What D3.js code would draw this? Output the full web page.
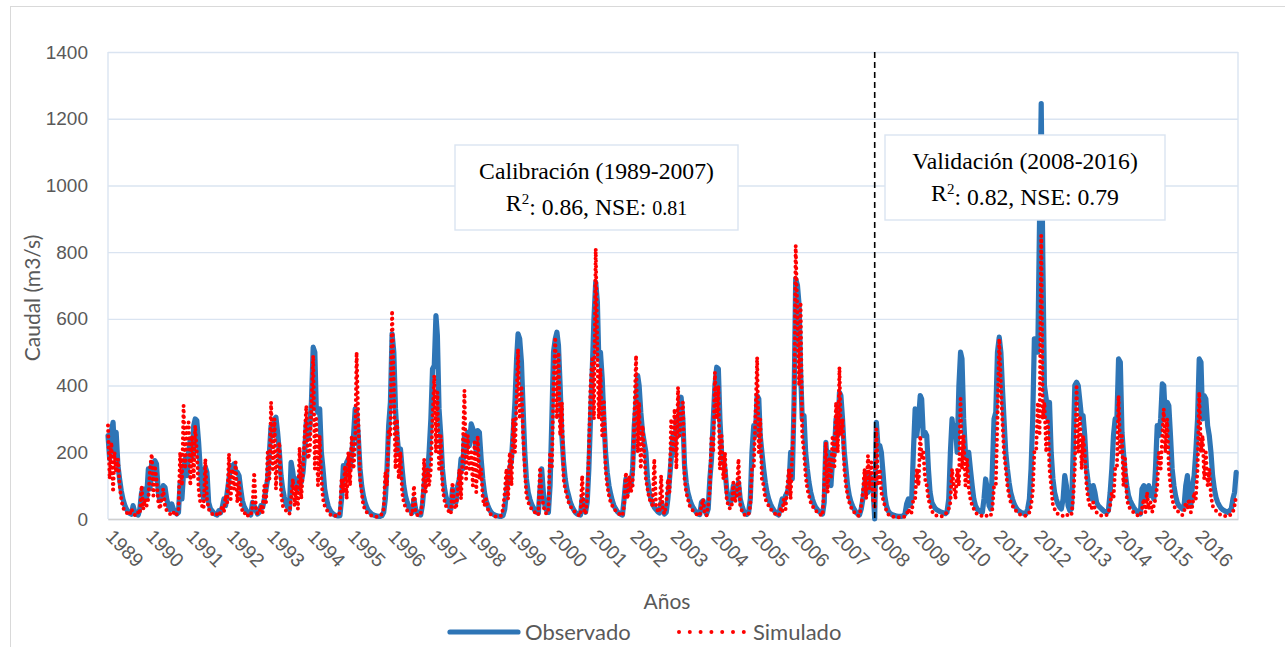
<!DOCTYPE html>
<html>
<head>
<meta charset="utf-8">
<script src="https://cdn.jsdelivr.net/npm/d3@7"></script>
<style>
  body { margin: 0; background: #fff; }
</style>
</head>
<body>
<div id="chart"></div>
<script>
// years on the x axis
var years = d3.range(1989, 2017);

// caudal observado, two values per month (1st and 16th), one row per year
var observado = [
  250,180,265,290,200,260,160,120,85,60,42,30,22,17,14,40,20,14,12,30,80,45,90,60,      // 1989
  150,90,170,120,175,165,80,55,70,100,95,60,40,28,45,30,20,15,20,110,60,140,180,130,    // 1990
  200,240,180,280,300,295,230,150,90,60,155,140,50,32,24,18,14,12,25,18,35,60,40,80,    // 1991
  120,160,150,165,145,140,130,90,55,38,28,20,15,12,50,40,25,15,20,40,35,60,90,120,      // 1992
  200,280,250,300,305,260,200,130,90,65,45,35,28,170,140,100,120,90,130,110,140,200,290,240, // 1993
  280,350,515,500,330,320,330,200,150,90,60,40,28,20,15,12,10,9,10,60,160,120,170,180,  // 1994
  150,200,250,330,320,250,150,100,70,50,35,25,20,15,12,10,9,8,8,10,20,60,150,280,       // 1995
  350,555,500,330,250,200,210,150,100,70,50,35,25,18,60,30,18,13,12,40,100,160,130,200, // 1996
  300,450,460,610,550,330,250,150,100,70,50,38,30,90,60,50,100,120,180,150,250,200,260,220, // 1997
  285,270,240,200,265,260,180,120,80,55,40,28,20,15,12,10,9,8,8,10,30,80,120,150,       // 1998
  180,260,350,480,555,540,470,330,200,120,80,60,45,35,25,20,18,90,150,80,35,25,20,100,  // 1999
  300,500,540,560,520,400,250,170,120,90,70,50,38,28,20,15,13,12,60,40,20,50,150,300,   // 2000
  450,600,710,650,480,500,420,300,200,140,100,75,55,40,30,22,17,14,12,60,120,80,110,100, // 2001
  150,280,350,430,400,320,260,230,200,120,80,60,45,35,28,22,18,50,30,15,20,60,120,180,  // 2002
  250,200,300,250,340,365,300,160,110,80,60,45,35,27,20,15,13,50,55,25,15,30,120,180,   // 2003
  300,400,455,450,300,200,180,150,90,60,45,60,100,70,80,110,60,40,25,18,14,20,60,200,   // 2004
  280,250,370,360,250,200,150,110,80,60,45,35,27,20,15,12,40,60,50,70,80,100,200,120,   // 2005
  350,720,700,640,450,300,310,200,150,110,80,60,45,35,28,22,18,15,50,230,150,200,100,180, // 2006
  200,300,250,380,370,300,200,150,100,70,50,38,28,20,15,12,30,60,100,140,80,130,120,100, // 2007
  0,290,210,220,200,140,70,40,25,18,14,12,10,9,8,8,8,10,15,45,60,40,60,200,             // 2008
  330,250,300,370,360,250,260,250,150,80,50,40,32,28,25,22,20,18,16,20,60,200,300,250,  // 2009
  280,200,400,500,480,300,200,180,200,150,100,60,40,30,25,22,20,60,120,90,40,30,150,300, // 2010
  320,500,545,500,400,300,200,150,110,80,60,45,35,28,23,20,18,16,15,30,60,150,300,540,  // 2011
  540,500,900,1245,800,400,360,300,350,200,120,80,60,45,35,30,60,130,100,40,25,30,200,400, // 2012
  410,400,350,300,310,250,150,110,80,60,100,80,50,40,35,30,25,22,20,25,80,150,250,300,  // 2013
  300,480,470,260,200,140,100,70,55,45,35,28,22,18,15,90,100,60,90,100,70,90,60,150,    // 2014
  280,250,300,405,400,300,350,340,250,150,100,70,50,40,35,30,40,100,130,60,40,100,130,200, // 2015
  300,480,470,300,370,360,280,250,200,130,90,65,50,40,32,28,25,22,20,25,30,60,80,140    // 2016
];

// caudal simulado, same dates
var simulado = [
  280,120,230,80,200,140,180,100,60,35,25,20,15,12,30,20,12,10,20,15,100,30,60,40,      // 1989
  60,150,195,70,160,120,50,30,60,90,40,25,20,15,12,20,10,15,30,200,100,340,150,280,     // 1990
  290,100,250,120,280,200,90,50,40,30,180,60,30,20,15,12,10,15,10,20,40,20,70,50,       // 1991
  195,60,150,90,170,50,110,40,25,15,20,10,12,10,40,140,30,15,20,40,20,100,50,200,       // 1992
  120,350,150,300,90,200,230,80,40,30,25,20,15,60,120,40,100,30,215,60,150,250,340,180, // 1993
  200,340,490,150,300,100,250,120,60,40,30,20,15,10,8,10,8,10,20,120,80,160,60,200,     // 1994
  100,250,150,230,500,300,120,80,40,30,20,15,12,10,8,7,7,8,10,15,30,140,100,270,        // 1995
  250,625,400,150,300,120,200,80,50,35,25,20,15,12,100,20,12,10,15,50,180,80,150,100,   // 1996
  150,300,430,200,380,150,250,100,60,40,30,20,15,110,40,30,80,150,60,200,385,120,250,150, // 1997
  200,100,230,80,250,120,150,60,40,60,30,20,12,10,8,7,7,8,10,30,80,150,60,200,          // 1998
  100,300,200,360,510,300,400,250,150,70,50,40,30,25,20,15,12,155,80,40,20,15,30,200,   // 1999
  150,400,545,300,500,250,350,120,90,70,50,40,30,25,20,15,12,10,130,30,15,60,200,400,   // 2000
  480,300,810,500,300,450,250,350,150,100,70,50,40,30,25,20,15,12,10,40,140,60,130,80,  // 2001
  100,300,490,200,350,150,280,200,120,90,60,50,40,180,40,25,20,130,30,15,40,120,80,300, // 2002
  200,330,150,395,250,300,350,120,80,60,40,30,25,20,15,12,10,40,60,15,10,40,90,250,     // 2003
  200,440,300,400,150,250,120,200,60,40,30,40,110,50,70,180,40,25,15,12,10,15,40,150,   // 2004
  150,300,485,200,300,120,100,60,50,40,30,25,20,15,12,10,30,20,60,30,100,150,60,200,    // 2005
  300,820,600,400,650,250,200,130,90,70,50,40,30,25,20,15,12,10,100,230,80,180,120,250, // 2006
  150,350,200,455,250,300,150,100,70,50,35,25,20,15,10,10,40,80,150,60,190,90,170,60,   // 2007
  30,270,100,150,80,60,40,25,15,10,8,7,6,5,5,5,5,6,8,12,30,15,20,60,                    // 2008
  60,150,100,250,180,200,120,100,60,40,25,15,12,10,10,8,8,10,15,20,30,50,150,100,       // 2009
  60,150,100,360,150,250,100,180,90,60,40,30,20,15,12,10,10,10,12,8,8,10,30,100,        // 2010
  100,300,540,400,300,200,150,100,70,50,40,30,25,20,15,12,10,10,10,12,20,40,80,200,     // 2011
  200,350,250,850,300,350,200,300,150,100,40,30,20,15,12,10,10,12,15,10,10,15,60,150,   // 2012
  395,200,310,150,250,200,100,60,40,30,50,30,20,15,12,10,10,10,12,20,40,80,60,150,      // 2013
  150,370,200,250,100,180,60,40,30,25,20,15,12,10,10,30,60,20,80,30,50,20,40,60,        // 2014
  100,200,150,250,330,200,300,150,100,60,40,30,25,20,15,12,20,50,30,60,20,40,80,60,     // 2015
  150,380,200,250,120,200,100,150,70,40,30,25,20,15,12,10,10,8,8,10,15,20,40,70         // 2016
];

var yTicks = [0, 200, 400, 600, 800, 1000, 1200, 1400];

var W = 1285, H = 647;
var plotLeft = 108, plotRight = 1238, plotTop = 52, plotBottom = 519;

var svg = d3.select('#chart').append('svg')
  .attr('width', W)
  .attr('height', H)
  .style('font-family', 'Lato, sans-serif');

// outer frame of the chart
svg.append('rect')
  .attr('x', 10.5).attr('y', 6.5)
  .attr('width', W).attr('height', H)
  .attr('fill', 'none')
  .attr('stroke', '#d9d9d9');

var x = d3.scaleTime()
  .domain([new Date(1989, 0, 1), new Date(2017, 0, 1)])
  .range([plotLeft, plotRight]);

var y = d3.scaleLinear()
  .domain([0, 1400])
  .range([plotBottom, plotTop]);

// date for each half-month value
function dateAt(i) {
  var yr = years[Math.floor(i / 24)];
  var k = i % 24;
  return new Date(yr, Math.floor(k / 2), k % 2 ? 16 : 1);
}

var obsData = observado.map((v, i) => ({ date: dateAt(i), v: v }));
var simData = simulado.map((v, i) => ({ date: dateAt(i), v: v }));

// gridlines + y labels
var yAxis = svg.append('g')
  .attr('transform', `translate(${plotLeft},0)`)
  .call(d3.axisLeft(y)
    .tickValues(yTicks)
    .tickFormat(d3.format('d'))
    .tickSize(-(plotRight - plotLeft))
    .tickPadding(20));
yAxis.select('.domain').remove();
yAxis.selectAll('line').attr('stroke', '#dae4f1').attr('stroke-width', 1.4);
yAxis.selectAll('text')
  .attr('fill', '#595959')
  .style('font-size', '19px');

// light vertical borders of the plot area
svg.selectAll('line.side')
  .data([plotLeft, plotRight])
  .join('line')
  .attr('class', 'side')
  .attr('x1', d => d).attr('x2', d => d)
  .attr('y1', plotTop).attr('y2', plotBottom)
  .attr('stroke', '#dae4f1')
  .attr('stroke-width', 1.4);

// x axis with rotated year labels
var xAxis = svg.append('g')
  .attr('transform', `translate(0,${plotBottom})`)
  .call(d3.axisBottom(x)
    .tickValues(years.map(yr => new Date(yr, 0, 1)))
    .tickFormat(d3.timeFormat('%Y'))
    .tickSize(0));
xAxis.select('.domain').attr('stroke', '#d0d0d0').attr('stroke-width', 1.5);
xAxis.selectAll('text')
  .attr('fill', '#595959')
  .style('font-size', '19.5px')
  .attr('text-anchor', 'start')
  .attr('x', 0).attr('y', 0).attr('dy', '0.35em')
  .attr('transform', 'translate(1,14) rotate(45)');

var line = d3.line()
  .x(d => x(d.date))
  .y(d => y(d.v));

svg.append('path')
  .datum(obsData)
  .attr('d', line)
  .attr('fill', 'none')
  .attr('stroke', '#2e75b6')
  .attr('stroke-width', 5.2)
  .attr('stroke-linejoin', 'round')
  .attr('stroke-linecap', 'round');

svg.append('path')
  .datum(simData)
  .attr('d', line)
  .attr('fill', 'none')
  .attr('stroke', '#ff0000')
  .attr('stroke-width', 4)
  .attr('stroke-dasharray', '0 5.5')
  .attr('stroke-linecap', 'round');

// split between calibration and validation
var split = x(new Date(2008, 0, 1));
svg.append('line')
  .attr('x1', split).attr('x2', split)
  .attr('y1', plotTop).attr('y2', plotBottom)
  .attr('stroke', '#000')
  .attr('stroke-width', 1.6)
  .attr('stroke-dasharray', '6 4');

// annotation boxes
function note(bx, by, bw, bh, title, r2, nse, small) {
  var g = svg.append('g').style('font-family', '"Liberation Serif", "Times New Roman", serif');
  g.append('rect')
    .attr('x', bx).attr('y', by).attr('width', bw).attr('height', bh)
    .attr('fill', '#fff').attr('stroke', '#dae4f1').attr('stroke-width', 1.4);
  g.append('text')
    .attr('x', bx + bw / 2).attr('y', by + 34)
    .attr('text-anchor', 'middle')
    .style('font-size', '23.7px')
    .text(title);
  var t = g.append('text')
    .attr('x', bx + bw / 2).attr('y', by + 66)
    .attr('text-anchor', 'middle')
    .style('font-size', '23.7px');
  t.append('tspan').text('R');
  t.append('tspan').attr('dy', '-0.45em').style('font-size', '15px').text('2');
  t.append('tspan').attr('dy', '0.45em').text(': ' + r2 + ', NSE: ');
  t.append('tspan').style('font-size', small ? '20px' : '23.7px').text(nse);
}
note(455, 145, 283, 85, 'Calibración (1989-2007)', '0.86', '0.81', true);
note(885, 135, 280, 85, 'Validación (2008-2016)', '0.82', '0.79', false);

// axis titles
svg.append('text')
  .attr('x', 667).attr('y', 609)
  .attr('text-anchor', 'middle')
  .attr('fill', '#595959')
  .style('font-size', '21px')
  .text('Años');

svg.append('text')
  .attr('transform', 'translate(40,298) rotate(-90)')
  .attr('text-anchor', 'middle')
  .attr('fill', '#595959')
  .style('font-size', '21px')
  .text('Caudal (m3/s)');

// legend
var legend = svg.append('g').attr('transform', 'translate(0,632)');
legend.append('line')
  .attr('x1', 450).attr('x2', 518)
  .attr('stroke', '#2e75b6').attr('stroke-width', 5.2).attr('stroke-linecap', 'round');
legend.append('text')
  .attr('x', 525).attr('y', 0).attr('dy', '0.35em')
  .attr('fill', '#595959').style('font-size', '22px')
  .text('Observado');
legend.append('line')
  .attr('x1', 679).attr('x2', 745)
  .attr('stroke', '#ff0000').attr('stroke-width', 4)
  .attr('stroke-dasharray', '0 10.8').attr('stroke-linecap', 'round');
legend.append('text')
  .attr('x', 753).attr('y', 0).attr('dy', '0.35em')
  .attr('fill', '#595959').style('font-size', '22px')
  .text('Simulado');
</script>
</body>
</html>
